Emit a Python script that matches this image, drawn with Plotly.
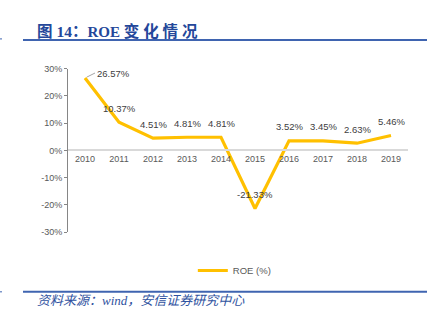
import plotly.graph_objects as go

years = ["2010", "2011", "2012", "2013", "2014", "2015", "2016", "2017", "2018", "2019"]
roe = [26.57, 10.37, 4.51, 4.81, 4.81, -21.33, 3.52, 3.45, 2.63, 5.46]
y_ticks = [30, 20, 10, 0, -10, -20, -30]
y_tick_text = ["30%", "20%", "10%", "0%", "-10%", "-20%", "-30%"]

W, H = 438, 323
def px_x(x): return x / W
def px_y(y): return 1 - y / H

fig = go.Figure()
fig.add_trace(go.Scatter(
    x=years, y=roe, mode="lines", name="ROE (%)",
    line=dict(color="#FFC000", width=3.2),
    hoverinfo="skip",
))

label_font = dict(family="Liberation Sans, Arial, sans-serif", size=9.5, color="#404040")
annotations = []
for i, v in enumerate(roe):
    txt = f"{v:.2f}%"
    if i == 0:
        annotations.append(dict(x=i, y=v, xref="x", yref="y", text=txt, showarrow=True,
                                arrowhead=0, arrowwidth=1, arrowcolor="#A6A6A6", ax=10, ay=-5,
                                xanchor="left", yanchor="middle", standoff=2, font=label_font))
    else:
        annotations.append(dict(x=i, y=v, xref="x", yref="y", text=txt, showarrow=False,
                                xanchor="center", yanchor="middle", yshift=14, font=label_font))

# title and source
annotations.append(dict(x=px_x(35), y=px_y(27), xref="paper", yref="paper", xanchor="left", yanchor="middle",
                        showarrow=False,
                        text="<b>图 14：<span style='font-size:15px'>ROE</span> 变 化 情 况</b>",
                        font=dict(family="Liberation Serif, Noto Sans CJK SC, serif", size=15.5, color="#24479A")))
annotations.append(dict(x=px_x(35), y=px_y(305), xref="paper", yref="paper", xanchor="left", yanchor="middle",
                        showarrow=False, text="<i>资料来源：wind，安信证券研究中心</i>",
                        font=dict(family="Liberation Serif, Noto Sans CJK SC, serif", size=13, color="#2F52A0")))

shapes = [
    dict(type="line", xref="paper", yref="paper", x0=px_x(23), x1=px_x(427), y0=px_y(36), y1=px_y(36),
         line=dict(color="#3F64B0", width=2)),
    dict(type="line", xref="paper", yref="paper", x0=px_x(23), x1=px_x(427), y0=px_y(296), y1=px_y(296),
         line=dict(color="#3F64B0", width=2)),
    dict(type="line", xref="paper", yref="paper", x0=0, x1=px_x(2), y0=px_y(35), y1=px_y(35),
         line=dict(color="#3F64B0", width=1)),
    dict(type="line", xref="paper", yref="paper", x0=0, x1=px_x(2), y0=px_y(296), y1=px_y(296),
         line=dict(color="#3F64B0", width=1)),
]

tick_font = dict(family="Liberation Sans, Arial, sans-serif", size=9, color="#595959")
y_dom = [px_y(234.3), px_y(65.7)]
fig.update_layout(
    width=W, height=H,
    margin=dict(l=0, r=0, t=0, b=0),
    paper_bgcolor="white", plot_bgcolor="white",
    showlegend=True,
    legend=dict(orientation="h", x=0.535, xanchor="center", y=px_y(274), yanchor="middle",
                font=dict(family="Liberation Sans, Arial, sans-serif", size=9.5, color="#595959"),
                bgcolor="rgba(0,0,0,0)", itemwidth=30),
    xaxis=dict(domain=[px_x(68), px_x(408)], anchor="free", position=(y_dom[0] + y_dom[1]) / 2,
               type="category", range=[-0.5, 9.5], showline=True, linecolor="#D9D9D9", linewidth=1.5,
               showgrid=False, zeroline=False, ticks="", tickfont=tick_font),
    yaxis=dict(domain=y_dom, range=[-30, 30], tickvals=y_ticks, ticktext=y_tick_text,
               showline=True, linecolor="#868686", linewidth=1, showgrid=False, zeroline=False,
               ticks="outside", ticklen=3, tickcolor="#868686", tickfont=tick_font),
    annotations=annotations,
    shapes=shapes,
)

fig.write_html("out.html", post_script="document.body.style.margin='0';document.body.style.padding='0';")
